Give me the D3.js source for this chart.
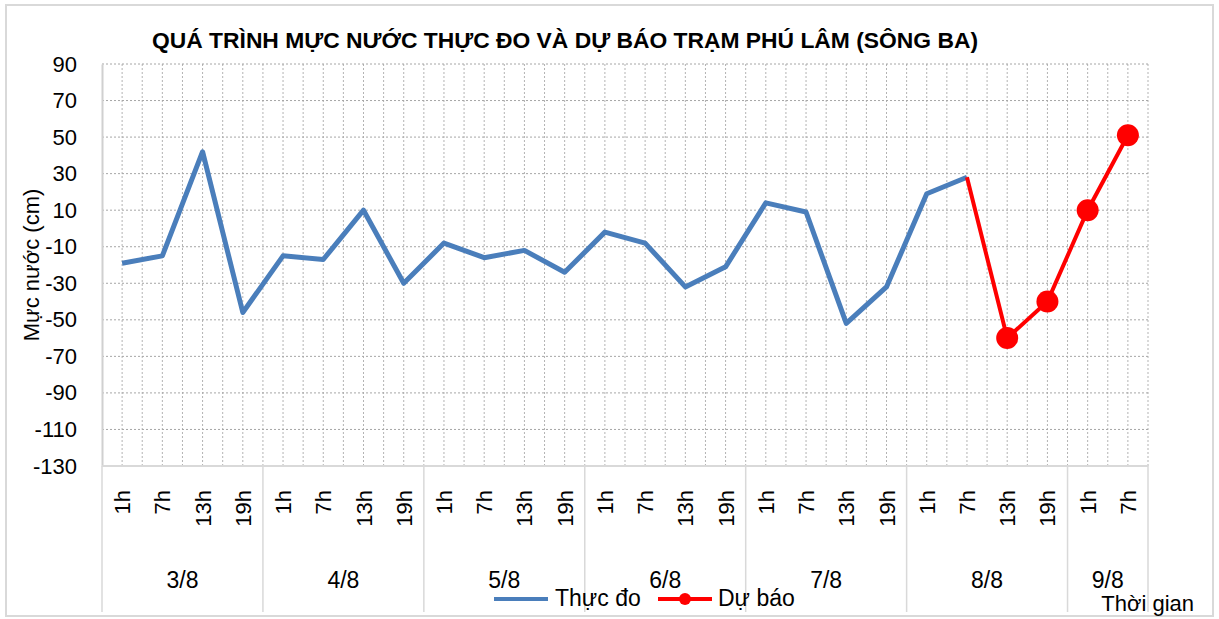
<!DOCTYPE html>
<html>
<head>
<meta charset="utf-8">
<script src="https://cdn.jsdelivr.net/npm/d3@7"></script>
<style>
  body { margin: 0; background: #fff; }
  svg { display: block; font-family: "Liberation Sans", Arial, sans-serif; }
</style>
</head>
<body>
<div id="chart"></div>
<script>
// data
var days = ["3/8", "4/8", "5/8", "6/8", "7/8", "8/8", "9/8"];
var hoursPerDay = [4, 4, 4, 4, 4, 4, 2];
var hours = ["1h", "7h", "13h", "19h"];

var observed = [-19, -15, 42, -46, -15, -17, 10, -30, -8, -16, -12, -24, -2, -8,
  -32, -21, 14, 9, -52, -32, 19, 28, null, null, null, null];
var forecast = [null, null, null, null, null, null, null, null, null, null, null,
  null, null, null, null, null, null, null, null, null, null, 28, -60, -40, 10, 51];

var yTicks = [90, 70, 50, 30, 10, -10, -30, -50, -70, -90, -110, -130];

// build categories (day + hour)
var cats = [];
days.forEach(function (d, di) {
  for (var k = 0; k < hoursPerDay[di]; k++) {
    cats.push({ id: cats.length, day: d, hour: hours[k] });
  }
});

var W = 1219, H = 619;
var margin = { top: 64, right: 71, bottom: 153, left: 102 };
var fs = 22;

var svg = d3.select("#chart").append("svg")
  .attr("width", W).attr("height", H);

// outer frame
svg.append("rect")
  .attr("x", 6).attr("y", 5)
  .attr("width", 1207).attr("height", 611)
  .attr("fill", "#fff").attr("stroke", "#d9d9d9").attr("stroke-width", 2);

var x = d3.scaleBand()
  .domain(cats.map(function (d) { return d.id; }))
  .range([margin.left, W - margin.right])
  .padding(0);

var y = d3.scaleLinear()
  .domain([-130, 90])
  .range([H - margin.bottom, margin.top]);

var bw = x.bandwidth();
var plotBottom = y(-130);

// vertical grid lines, at category edges and centres
var vLines = [];
cats.forEach(function (c) {
  vLines.push(x(c.id));
  vLines.push(x(c.id) + bw / 2);
});
vLines.push(x(cats[cats.length - 1].id) + bw);

svg.append("g").selectAll("line")
  .data(vLines.slice(1))
  .enter().append("line")
  .attr("x1", function (d) { return d; })
  .attr("x2", function (d) { return d; })
  .attr("y1", y(90)).attr("y2", plotBottom)
  .attr("stroke", "#b3b3b3")
  .attr("stroke-dasharray", "2,2");

// horizontal grid lines
svg.append("g").selectAll("line")
  .data(yTicks.filter(function (t) { return t > -130; }))
  .enter().append("line")
  .attr("x1", margin.left).attr("x2", W - margin.right)
  .attr("y1", function (d) { return y(d); })
  .attr("y2", function (d) { return y(d); })
  .attr("stroke", "#a6a6a6")
  .attr("stroke-dasharray", "2,2");

// y axis
var yAxis = d3.axisLeft(y).tickValues(yTicks).tickSize(0).tickPadding(25)
  .tickFormat(function (d) { return String(d); });
var gy = svg.append("g")
  .attr("transform", "translate(" + margin.left + ",0)")
  .call(yAxis);
gy.select(".domain").attr("stroke", "#d0d0d0").attr("stroke-width", 2);
gy.selectAll("text")
  .attr("font-size", fs)
  .attr("font-family", "Liberation Sans, Arial, sans-serif")
  .attr("fill", "#000");

// x axis baseline
svg.append("line")
  .attr("x1", margin.left).attr("x2", W - margin.right)
  .attr("y1", plotBottom).attr("y2", plotBottom)
  .attr("stroke", "#d9d9d9").attr("stroke-width", 2);

// hour labels (rotated)
svg.append("g").selectAll("text")
  .data(cats)
  .enter().append("text")
  .attr("transform", function (d) {
    return "translate(" + (x(d.id) + bw / 2 + 8) + "," + (plotBottom + 24) + ") rotate(-90)";
  })
  .attr("text-anchor", "end")
  .attr("font-size", fs)
  .attr("fill", "#000")
  .text(function (d) { return d.hour; });

// day group separators and labels
var groups = days.map(function (d) {
  var members = cats.filter(function (c) { return c.day === d; });
  return { day: d, x0: x(members[0].id), x1: x(members[members.length - 1].id) + bw };
});

var sepX = [groups[0].x0].concat(groups.map(function (g) { return g.x1; }));
svg.append("g").selectAll("line")
  .data(sepX)
  .enter().append("line")
  .attr("x1", function (d) { return d; })
  .attr("x2", function (d) { return d; })
  .attr("y1", plotBottom).attr("y2", 612)
  .attr("stroke", "#d9d9d9").attr("stroke-width", 1.5);

svg.append("g").selectAll("text")
  .data(groups)
  .enter().append("text")
  .attr("x", function (d) { return (d.x0 + d.x1) / 2; })
  .attr("y", 588)
  .attr("text-anchor", "middle")
  .attr("font-size", fs + 1)
  .attr("fill", "#000")
  .text(function (d) { return d.day; });

// lines
var line = d3.line()
  .defined(function (d) { return d.v !== null; })
  .x(function (d) { return x(d.i) + bw / 2; })
  .y(function (d) { return y(d.v); });

var obsData = observed.map(function (v, i) { return { i: i, v: v }; });
var fcData = forecast.map(function (v, i) { return { i: i, v: v }; });

svg.append("path")
  .datum(obsData)
  .attr("d", line)
  .attr("fill", "none")
  .attr("stroke", "#4a7ebb")
  .attr("stroke-width", 5)
  .attr("stroke-linejoin", "round");

svg.append("path")
  .datum(fcData)
  .attr("d", line)
  .attr("fill", "none")
  .attr("stroke", "#ff0000")
  .attr("stroke-width", 4);

// forecast markers (the joining point has none)
var firstFc = fcData.findIndex(function (d) { return d.v !== null; });
svg.append("g").selectAll("circle")
  .data(fcData.filter(function (d) { return d.v !== null && d.i > firstFc; }))
  .enter().append("circle")
  .attr("cx", function (d) { return x(d.i) + bw / 2; })
  .attr("cy", function (d) { return y(d.v); })
  .attr("r", 11)
  .attr("fill", "#ff0000");

// title
svg.append("text")
  .attr("x", 565).attr("y", 48)
  .attr("text-anchor", "middle")
  .attr("font-size", 22)
  .attr("font-weight", "bold")
  .attr("fill", "#000")
  .attr("textLength", 826)
  .attr("lengthAdjust", "spacingAndGlyphs")
  .text("QUÁ TRÌNH MỰC NƯỚC THỰC ĐO VÀ DỰ BÁO TRẠM PHÚ LÂM (SÔNG BA)");

// y axis title
svg.append("text")
  .attr("transform", "translate(39,265) rotate(-90)")
  .attr("text-anchor", "middle")
  .attr("font-size", fs)
  .attr("fill", "#000")
  .text("Mực nước (cm)");

// x axis title
svg.append("text")
  .attr("x", 1194).attr("y", 611)
  .attr("text-anchor", "end")
  .attr("font-size", fs)
  .attr("fill", "#000")
  .text("Thời gian");

// legend
var lg = svg.append("g");
lg.append("line")
  .attr("x1", 494).attr("x2", 548).attr("y1", 599).attr("y2", 599)
  .attr("stroke", "#4a7ebb").attr("stroke-width", 4);
lg.append("text")
  .attr("x", 555).attr("y", 606)
  .attr("font-size", fs + 1).attr("fill", "#000")
  .text("Thực đo");
lg.append("line")
  .attr("x1", 658).attr("x2", 712).attr("y1", 599).attr("y2", 599)
  .attr("stroke", "#ff0000").attr("stroke-width", 4);
lg.append("circle")
  .attr("cx", 685).attr("cy", 599).attr("r", 6)
  .attr("fill", "#ff0000");
lg.append("text")
  .attr("x", 718).attr("y", 606)
  .attr("font-size", fs + 1).attr("fill", "#000")
  .text("Dự báo");
</script>
</body>
</html>
